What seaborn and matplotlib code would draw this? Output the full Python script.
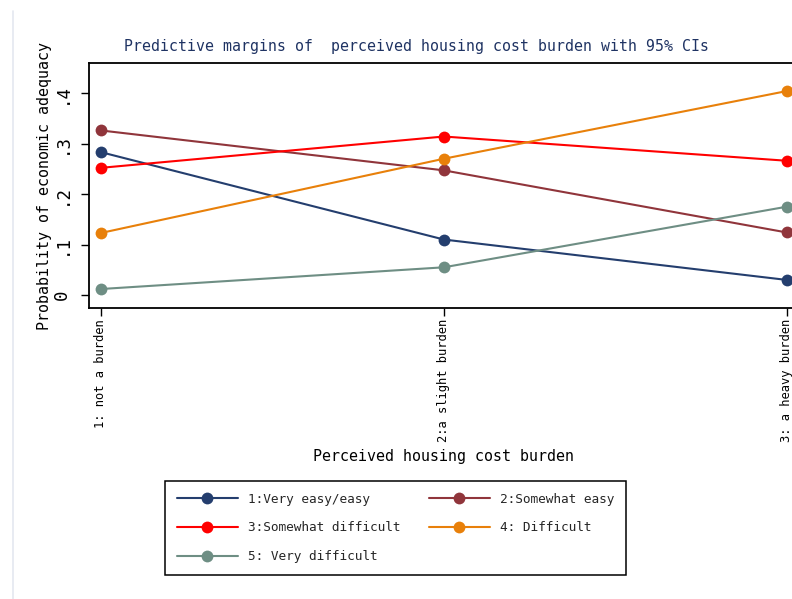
import matplotlib
matplotlib.use("Agg")
import matplotlib.pyplot as plt
from matplotlib.lines import Line2D
import seaborn as sns
import pandas as pd

# Burden categories (x axis) and predicted probabilities per outcome level
burden_levels = [1, 2, 3]
burden_labels = ["1: not a burden", "2:a slight burden", "3: a heavy burden"]

outcome_names = ["1:Very easy/easy", "2:Somewhat easy", "3:Somewhat difficult",
                 "4: Difficult", "5: Very difficult"]
very_easy = [0.283, 0.110, 0.030]
somewhat_easy = [0.326, 0.247, 0.124]
somewhat_difficult = [0.252, 0.314, 0.266]
difficult = [0.123, 0.270, 0.404]
very_difficult = [0.012, 0.055, 0.175]

y_ticks = [0, 0.1, 0.2, 0.3, 0.4]
y_tick_labels = ["0", ".1", ".2", ".3", ".4"]

colors = ["#243e6e", "#90353b", "#ff0000", "#e8800a", "#6e8e84"]

series = [very_easy, somewhat_easy, somewhat_difficult, difficult, very_difficult]
rows = []
for name, vals in zip(outcome_names, series):
    for x, v in zip(burden_levels, vals):
        rows.append({"burden": x, "prob": v, "outcome": name})
df = pd.DataFrame(rows)

sns.set_theme(style="white")
plt.rcParams["font.family"] = ["DejaVu Sans Mono", "DejaVu Sans"]

W, H = 792, 599
fig = plt.figure(figsize=(W / 100, H / 100), dpi=100)
fig.patch.set_facecolor("white")

# axes frame in pixel terms: left 89, right 799, top 63, bottom 308
ax = fig.add_axes([89 / W, 1 - 307.7 / H, 710 / W, 244.4 / H])
ax.set_facecolor("white")

sns.lineplot(data=df, x="burden", y="prob", hue="outcome", hue_order=outcome_names,
             palette=colors, marker="o", markersize=8.5, markeredgewidth=0,
             linewidth=1.5, legend=False, ax=ax, clip_on=False)

ax.set_xlim(1 - 12 / 343, 3 + 12.3 / 343)
ax.set_ylim(-0.025, 0.459)

ax.set_xticks(burden_levels)
ax.set_xticklabels(burden_labels, rotation=90, fontsize=8.7, color="black")
ax.set_yticks(y_ticks)
ax.set_yticklabels(y_tick_labels, rotation=90, va="center", fontsize=12.5, color="black")
ax.tick_params(axis="x", direction="out", length=6, width=1, color="black", pad=2,
               bottom=True)
ax.tick_params(axis="y", direction="out", length=6, width=1, color="black", pad=7,
               left=True)
ax.set_xlabel("")
ax.set_ylabel("")
for sp in ax.spines.values():
    sp.set_visible(True)
    sp.set_color("black")
    sp.set_linewidth(1.3)
ax.grid(False)

# titles
fig.text(416.5 / W, 1 - 46 / H, "Predictive margins of  perceived housing cost burden with 95% CIs",
         ha="center", va="center", fontsize=10.7, color="#1f3363")
fig.text(45 / W, 1 - 185.5 / H, "Probability of economic adequacy", rotation=90,
         ha="center", va="center", fontsize=10.8, color="black")
fig.text(444 / W, 1 - 456 / H, "Perceived housing cost burden",
         ha="center", va="center", fontsize=10.8, color="black")

# thin border on the left of the graph region
fig.add_artist(Line2D([12.5 / W, 12.5 / W], [0, 1 - 11 / H], color="#e4e8f0", linewidth=1.2))

# legend, two columns filled row by row
handles = [Line2D([], [], color=c, marker="o", markersize=8.5, markeredgewidth=0,
                  linewidth=1.5) for c in colors]
order = [0, 2, 4, 1, 3]
leg = fig.legend([handles[i] for i in order], [outcome_names[i] for i in order],
                 loc="upper left", bbox_to_anchor=(165 / W, 1 - 481 / H),
                 ncol=2, frameon=True, fancybox=False, shadow=False,
                 fontsize=9.2, handlelength=4.8, handletextpad=0.8,
                 columnspacing=2.2, labelspacing=1.25, borderpad=0.9,
                 borderaxespad=0)
leg.get_frame().set_edgecolor("black")
leg.get_frame().set_linewidth(1.1)
leg.get_frame().set_facecolor("white")
leg.get_frame().set_alpha(1)

fig.savefig("out.png", dpi=100, facecolor="white")
